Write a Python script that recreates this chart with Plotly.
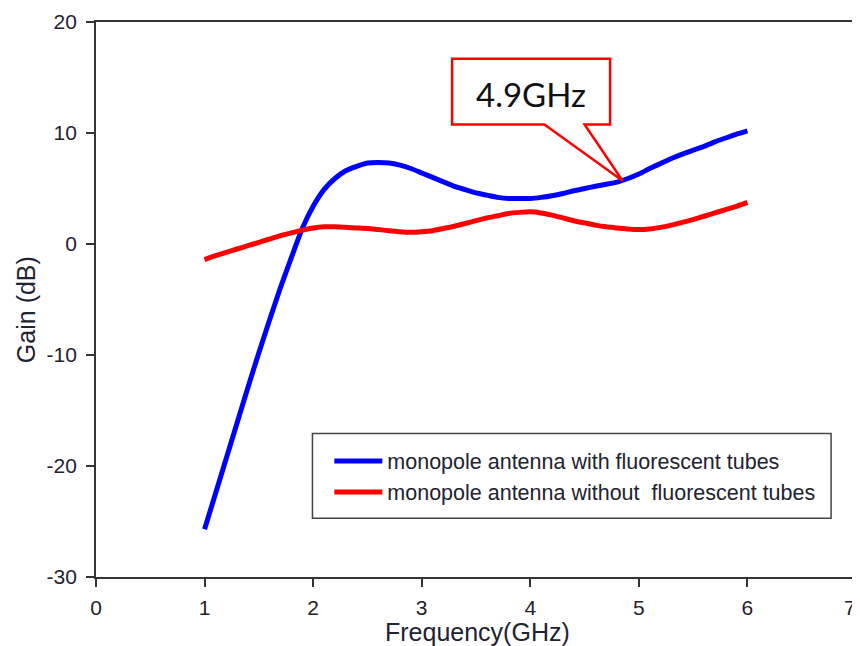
import plotly.graph_objects as go

# ---- data ----
freq = [1.0, 1.1, 1.2, 1.3, 1.4, 1.5, 1.6, 1.7, 1.8, 1.9,
        2.0, 2.1, 2.2, 2.3, 2.4, 2.5, 2.6, 2.7, 2.8, 2.9,
        3.0, 3.1, 3.2, 3.3, 3.4, 3.5, 3.6, 3.7, 3.8, 3.9,
        4.0, 4.1, 4.2, 4.3, 4.4, 4.5, 4.6, 4.7, 4.8, 4.9,
        5.0, 5.1, 5.2, 5.3, 5.4, 5.5, 5.6, 5.7, 5.8, 5.9, 6.0]

gain_with = [-25.7, -22.5, -19.3, -16.1, -12.9, -9.8, -6.8, -3.9, -1.2, 1.4,
             3.4, 4.9, 5.9, 6.6, 7.0, 7.3, 7.35, 7.3, 7.1, 6.8,
             6.4, 6.0, 5.6, 5.2, 4.9, 4.6, 4.4, 4.2, 4.1, 4.1,
             4.1, 4.2, 4.35, 4.55, 4.8, 5.0, 5.2, 5.38, 5.58, 5.9,
             6.3, 6.8, 7.25, 7.7, 8.1, 8.45, 8.8, 9.2, 9.55, 9.9, 10.2]

gain_without = [-1.4, -1.05, -0.75, -0.45, -0.15, 0.15, 0.45, 0.75, 1.0, 1.25,
                1.45, 1.55, 1.55, 1.5, 1.45, 1.4, 1.3, 1.2, 1.1, 1.05,
                1.1, 1.2, 1.4, 1.6, 1.85, 2.1, 2.35, 2.55, 2.75, 2.85,
                2.9, 2.8, 2.6, 2.35, 2.1, 1.9, 1.7, 1.55, 1.45, 1.35,
                1.3, 1.35, 1.5, 1.7, 1.95, 2.2, 2.5, 2.8, 3.1, 3.4, 3.75]

series_names = ["monopole antenna with fluorescent tubes",
                "monopole antenna without  fluorescent tubes"]
series_colors = ["#0000FF", "#FF0000"]

x_ticks = [0, 1, 2, 3, 4, 5, 6, 7]
y_ticks = [-30, -20, -10, 0, 10, 20]

callout_text = "4.9GHz"
callout_tip = (4.85, 5.7)          # point on the blue curve
callout_box = (3.28, 4.735, 10.76, 16.68)   # x0, x1, y0, y1 (data units)
callout_base = (4.13, 4.50)        # pointer base on the box bottom

TXT = "#222230"
FONT = "Liberation Sans, Arial, sans-serif"

fig = go.Figure()
for ys, name, col in zip([gain_with, gain_without], series_names, series_colors):
    fig.add_trace(go.Scatter(
        x=freq, y=ys, mode="lines", name=name,
        line=dict(color=col, width=5, shape="spline", smoothing=0.6),
    ))

# callout bubble
bx0, bx1, by0, by1 = callout_box
pl, pr = callout_base
tx, ty = callout_tip
path = (f"M{bx0},{by1} L{bx1},{by1} L{bx1},{by0} L{pr},{by0} "
        f"L{tx},{ty} L{pl},{by0} L{bx0},{by0} Z")
fig.add_shape(type="path", path=path, xref="x", yref="y",
              line=dict(color="#FF0000", width=2.5), fillcolor="white",
              layer="above")
fig.add_annotation(x=(bx0 + bx1) / 2, y=(by0 + by1) / 2 - 0.2, xref="x", yref="y",
                   text=callout_text, showarrow=False,
                   font=dict(family="Lato, sans-serif", size=33, color="#111111"))

# legend frame
fig.add_shape(type="rect", xref="paper", yref="paper",
              x0=0.2848, x1=0.9672, y0=0.1059, y1=0.2585,
              line=dict(color="#444444", width=1.5), fillcolor="white",
              layer="above")

# axis titles
fig.add_annotation(x=0.5026, y=-0.099, xref="paper", yref="paper",
                   text="Frequency(GHz)", showarrow=False,
                   xanchor="center", yanchor="middle",
                   font=dict(family=FONT, size=25, color=TXT))
fig.add_annotation(x=-0.092, y=0.481, xref="paper", yref="paper",
                   text="Gain (dB)", showarrow=False, textangle=-90,
                   xanchor="center", yanchor="middle",
                   font=dict(family=FONT, size=25, color=TXT))

# last x tick label sits at the very edge of the picture
x_ticktext = [str(v) for v in x_ticks]
last_label = x_ticktext[-1]
x_ticktext[-1] = ""
fig.add_annotation(x=x_ticks[-1], y=-0.0555, xref="x", yref="paper",
                   text=last_label, showarrow=False,
                   xanchor="right", yanchor="middle", xshift=2,
                   font=dict(family=FONT, size=21, color=TXT))

axis_common = dict(showgrid=False, zeroline=False, showline=True,
                   linecolor="#333333", linewidth=1.8, mirror=True,
                   ticks="outside", ticklen=8, tickwidth=1.5,
                   tickcolor="#333333",
                   tickfont=dict(family=FONT, size=21, color=TXT))

fig.update_xaxes(range=[0, 7], tickvals=x_ticks, ticklabelstandoff=3,
                 ticktext=x_ticktext, **axis_common)
fig.update_yaxes(range=[-30, 20], tickvals=y_ticks, ticklabelstandoff=5,
                 ticktext=[str(v) for v in y_ticks], **axis_common)

fig.update_layout(
    width=852, height=638,
    margin=dict(l=88, r=2, t=12, b=69),
    paper_bgcolor="white", plot_bgcolor="white",
    showlegend=True,
    legend=dict(x=0.307, y=0.246, xanchor="left", yanchor="top",
                bgcolor="rgba(0,0,0,0)", borderwidth=0,
                itemwidth=48, tracegroupgap=0,
                font=dict(family=FONT, size=21.5, color=TXT)),
)

fig.write_html("out.html")
